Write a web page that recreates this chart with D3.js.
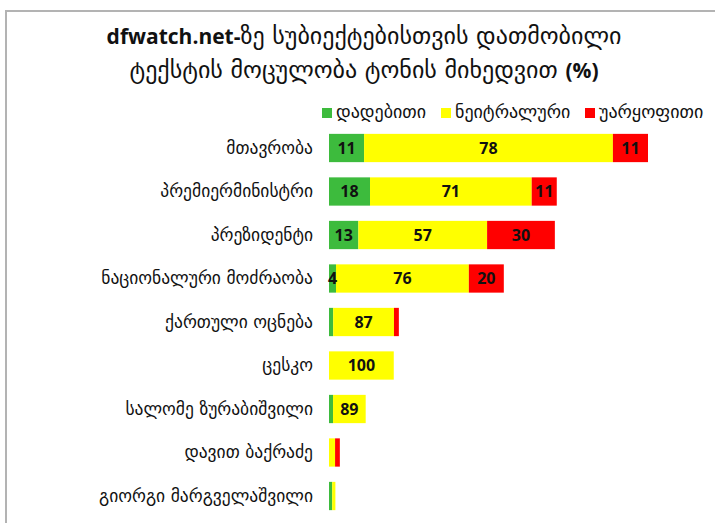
<!DOCTYPE html>
<html>
<head>
<meta charset="utf-8">
<script src="https://cdn.jsdelivr.net/npm/d3@7"></script>
<style>
  html, body { margin: 0; padding: 0; background: #fff; }
  svg { display: block; }
</style>
</head>
<body>
<svg id="chart" width="715" height="523"></svg>
<script>
// ---- data ----
const categories = ["მთავრობა","პრემიერმინისტრი","პრეზიდენტი","ნაციონალური მოძრაობა","ქართული ოცნება","ცესკო","სალომე ზურაბიშვილი","დავით ბაქრაძე","გიორგი მარგველაშვილი"];
// relative text volume per subject (largest = 100)
const volume = [100, 71.4, 70.8, 54.8, 21.9, 20.3, 11.5, 3.4, 2.0];
// tone shares (%)
const positive = [11, 18, 13, 4, 6, 0, 11, 0, 50];
const neutral  = [78, 71, 57, 76, 87, 100, 89, 56, 50];
const negative = [11, 11, 30, 20, 7, 0, 0, 44, 0];
const seriesNames = ["დადებითი", "ნეიტრალური", "უარყოფითი"];
const seriesColors = ["#3dbb3d", "#ffff00", "#ff0000"];

const geoFont = "'DejaVu Sans', sans-serif";
const latFont = "'Open Sans', 'DejaVu Sans', sans-serif";

const svg = d3.select("#chart");

// frame
svg.append("path").attr("d", "M6,523 V11 H715").attr("fill", "none")
  .attr("stroke", "#b3b3b3").attr("stroke-width", 2);

// title
const title = svg.append("g").attr("text-anchor", "middle").attr("fill", "#111");
const t1 = title.append("text").attr("x", 364).attr("y", 44);
t1.append("tspan").attr("font-family", latFont).attr("font-weight", "bold").attr("font-size", 21).text("dfwatch.net-");
t1.append("tspan").attr("font-family", geoFont).attr("font-size", 24).text("ზე სუბიექტებისთვის დათმობილი");
const t2 = title.append("text").attr("x", 364).attr("y", 78);
t2.append("tspan").attr("font-family", geoFont).attr("font-size", 24).text("ტექსტის მოცულობა ტონის მიხედვით ");
t2.append("tspan").attr("font-family", latFont).attr("font-weight", "bold").attr("font-size", 21).text("(%)");

// scales
const x = d3.scaleLinear().domain([0, 100]).range([329, 648]);
const y = d3.scaleBand().domain(categories).range([126.25, 517.75]).paddingInner(0.35).paddingOuter(0.175);

// stacked data (absolute volume split by tone share)
const rows = categories.map((c, i) => ({
  cat: c,
  pos: volume[i] * positive[i] / 100,
  neu: volume[i] * neutral[i] / 100,
  neg: volume[i] * negative[i] / 100,
  pct: {pos: positive[i], neu: neutral[i], neg: negative[i]}
}));
const keys = ["pos", "neu", "neg"];
const stack = d3.stack().keys(keys)(rows);

const minLabelPx = 6.5;
const layers = svg.append("g").selectAll("g").data(stack).join("g")
  .attr("fill", (d, i) => seriesColors[i]);
layers.selectAll("rect").data(d => d).join("rect")
  .attr("x", d => x(d[0]))
  .attr("y", d => y(d.data.cat))
  .attr("width", d => x(d[1]) - x(d[0]))
  .attr("height", y.bandwidth());

const labelG = svg.append("g").attr("font-family", latFont).attr("font-weight", "bold")
  .attr("font-size", 16).attr("text-anchor", "middle").attr("fill", "#111");
stack.forEach(layer => {
  layer.forEach(d => {
    const w = x(d[1]) - x(d[0]);
    if (w >= minLabelPx) {
      labelG.append("text")
        .attr("x", (x(d[0]) + x(d[1])) / 2)
        .attr("y", y(d.data.cat) + y.bandwidth() / 2)
        .attr("dy", "0.36em")
        .text(d.data.pct[layer.key]);
    }
  });
});

// category axis
const yAxis = d3.axisLeft(y).tickSize(0).tickPadding(16);
const ax = svg.append("g").attr("transform", "translate(329,0)").call(yAxis);
ax.select(".domain").remove();
ax.selectAll("text").attr("font-family", geoFont).attr("font-size", 17.5).attr("fill", "#111");

// legend
const legendX = [322, 441, 585];
const leg = svg.append("g");
seriesNames.forEach((n, i) => {
  leg.append("rect").attr("x", legendX[i]).attr("y", 108).attr("width", 10).attr("height", 10).attr("fill", seriesColors[i]);
  leg.append("text").attr("x", legendX[i] + 14).attr("y", 118).attr("font-family", geoFont)
    .attr("font-size", 18).attr("fill", "#111").text(n);
});
</script>
</body>
</html>
